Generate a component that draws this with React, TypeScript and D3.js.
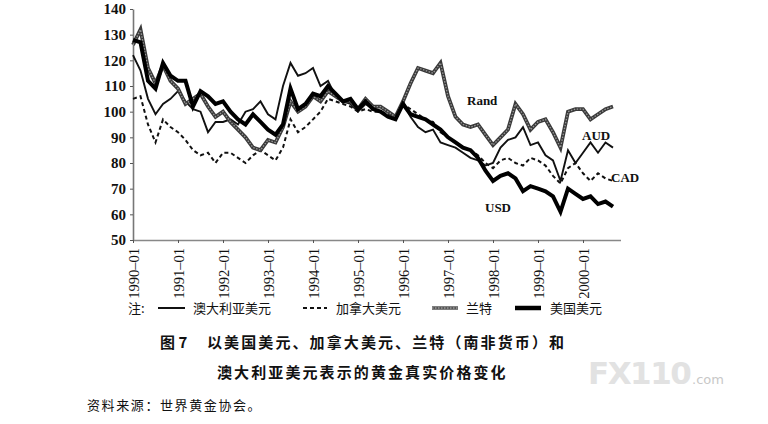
import React, { useRef, useEffect } from "react"
import * as d3 from "d3"

// bi-monthly readings, first point = 1990-01
const startYear = 1990
const stepMonths = 2

const usd = [
  128, 127, 112, 109, 119, 114, 112, 112, 102, 108, 106, 103, 104, 100, 97, 95, 99, 96, 93, 91, 95, 109, 101, 103, 107, 106, 110, 107, 104, 105,
  101, 104, 101, 100, 98, 97, 103, 99, 98, 97, 95, 93, 90, 88, 86, 85, 82, 77, 73, 75, 76, 74, 69, 71, 70, 69, 67, 61, 70, 68, 66, 67, 64, 65, 63,
]
const rand = [
  126, 132, 117, 111, 118, 112, 109, 103, 105, 107, 102, 98, 100, 96, 93, 90, 86, 85, 89, 88, 94, 104, 100, 102, 106, 104, 108, 106, 104, 104,
  101, 105, 102, 102, 100, 98, 104, 111, 117, 116, 115, 119, 106, 98, 95, 94, 95, 91, 87, 90, 93, 103, 99, 93, 96, 97, 92, 86, 100, 101, 101, 97, 99, 101, 102,
]
const aud = [
  122, 116, 105, 99, 103, 105, 108, 104, 101, 100, 92, 96, 96, 97, 95, 100, 101, 104, 99, 97, 110, 119, 114, 115, 117, 110, 112, 106, 104, 103,
  100, 103, 101, 100, 98, 97, 104, 98, 94, 92, 93, 88, 87, 86, 84, 82, 81, 79, 80, 86, 89, 90, 94, 87, 88, 83, 81, 73, 85, 80, 84, 88, 84, 88, 86,
]
const cad = [
  105, 106, 95, 88, 97, 94, 92, 89, 85, 83, 84, 80, 84, 84, 82, 80, 83, 85, 83, 81, 86, 97, 92, 94, 97, 100, 105, 104, 103, 102,
  100, 101, 100, 100, 99, 98, 103, 101, 99, 97, 96, 92, 90, 88, 86, 85, 83, 80, 78, 81, 82, 80, 79, 82, 81, 79, 75, 72, 78, 80, 76, 73, 76, 74, 73,
]

const yTicks = [50, 60, 70, 80, 90, 100, 110, 120, 130, 140]
const yearTicks = ["1990-01", "1991-01", "1992-01", "1993-01", "1994-01", "1995-01", "1996-01", "1997-01", "1998-01", "1999-01", "2000-01"]

const legendNames = ["澳大利亚美元", "加拿大美元", "兰特", "美国美元"]
const seriesLabels = ["AUD", "CAD", "Rand", "USD"]
const titleLine1 = "以美国美元、加拿大美元、兰特（南非货币）和"
const titleLine2 = "澳大利亚美元表示的黄金真实价格变化"
const sourceText = "资料来源：世界黄金协会。"

const W = 768
const H = 424
const serif = "'Liberation Serif', 'Times New Roman', serif"
const cjk = "'Noto Sans CJK SC', sans-serif"

const App: React.FC = () => {
  const svgRef = useRef<SVGSVGElement | null>(null)

  useEffect(() => {
    if (!svgRef.current) return
    const svg = d3.select(svgRef.current)
    svg.selectAll("*").remove()

    svg.append("rect").attr("width", W).attr("height", H).attr("fill", "#fff")

    const x = d3.scaleLinear().domain([0, 130]).range([133, 620.5])
    const y = d3.scaleLinear().domain([50, 140]).range([240, 9])

    // axes
    const yAxis = svg
      .append("g")
      .attr("transform", `translate(${x(0)},0)`)
      .call(d3.axisLeft(y).tickValues(yTicks).tickSize(3).tickSizeOuter(0).tickPadding(4))
    yAxis.selectAll("text").style("font-family", serif).style("font-size", "15px").style("font-weight", "bold").attr("fill", "#111")
    yAxis.select(".domain").attr("stroke", "#777").attr("stroke-width", 1.6)
    yAxis.selectAll(".tick line").attr("stroke", "#555")

    const xAxis = svg
      .append("g")
      .attr("transform", `translate(0,${y(50)})`)
      .call(
        d3
          .axisBottom(x)
          .tickValues(yearTicks.map((_, i) => i * 12))
          .tickFormat((_, i) => yearTicks[i].replace("-", "–"))
          .tickSize(3)
          .tickSizeOuter(0)
      )
    xAxis.select(".domain").attr("stroke", "#888").attr("stroke-width", 1.6)
    xAxis.selectAll(".tick line").attr("stroke", "#555")
    xAxis
      .selectAll("text")
      .attr("transform", "rotate(-90)")
      .attr("x", -8)
      .attr("y", 0)
      .attr("dy", "0.35em")
      .style("text-anchor", "end")
      .style("font-family", serif)
      .style("font-size", "14.5px")
      .attr("fill", "#111")

    const line = d3
      .line<number>()
      .x((_, i) => x(i * stepMonths))
      .y((d) => y(d))

    const g = svg.append("g").attr("fill", "none").attr("stroke-linejoin", "miter")

    // CAD dashed
    g.append("path").datum(cad).attr("d", line).attr("stroke", "#111").attr("stroke-width", 2).attr("stroke-dasharray", "4,3")
    // AUD thin
    g.append("path").datum(aud).attr("d", line).attr("stroke", "#111").attr("stroke-width", 1.9)
    // Rand grey textured
    g.append("path").datum(rand).attr("d", line).attr("stroke", "#3a3a3a").attr("stroke-width", 3.8)
    g.append("path").datum(rand).attr("d", line).attr("stroke", "#999").attr("stroke-width", 1.3).attr("stroke-dasharray", "1.5,1.5")
    // USD thick
    g.append("path").datum(usd).attr("d", line).attr("stroke", "#000").attr("stroke-width", 4)

    // series labels
    const lab = svg.append("g").style("font-family", serif).style("font-size", "13px").style("font-weight", "bold").attr("fill", "#111")
    const labelPos: [number, number][] = [
      [582, 140],
      [611, 182],
      [467, 105],
      [485, 212],
    ]
    seriesLabels.forEach((s, i) => {
      lab.append("text").attr("x", labelPos[i][0]).attr("y", labelPos[i][1]).text(s)
    })

    // legend
    const leg = svg.append("g").style("font-family", cjk).style("font-size", "13px").attr("fill", "#111")
    const ly = 308
    leg.append("text").attr("x", 128).attr("y", ly + 5).text("注:")
    const swatchX = [158, 303, 432, 515]
    const textX = [193, 336, 466, 550]
    leg.append("line").attr("x1", swatchX[0]).attr("x2", swatchX[0] + 27).attr("y1", ly).attr("y2", ly).attr("stroke", "#111").attr("stroke-width", 2)
    leg.append("line").attr("x1", swatchX[1]).attr("x2", swatchX[1] + 24).attr("y1", ly).attr("y2", ly).attr("stroke", "#111").attr("stroke-width", 2).attr("stroke-dasharray", "4,3")
    leg.append("line").attr("x1", swatchX[2]).attr("x2", swatchX[2] + 26).attr("y1", ly).attr("y2", ly).attr("stroke", "#555").attr("stroke-width", 3.5)
    leg.append("line").attr("x1", swatchX[2]).attr("x2", swatchX[2] + 26).attr("y1", ly).attr("y2", ly).attr("stroke", "#bbb").attr("stroke-width", 1.2).attr("stroke-dasharray", "1.5,1.5")
    leg.append("line").attr("x1", swatchX[3]).attr("x2", swatchX[3] + 26).attr("y1", ly).attr("y2", ly).attr("stroke", "#000").attr("stroke-width", 4.5)
    legendNames.forEach((n, i) => {
      leg.append("text").attr("x", textX[i]).attr("y", ly + 5).text(n)
    })

    // caption
    const cap = svg.append("g").style("font-family", cjk).style("font-weight", "bold").style("font-size", "15px").attr("fill", "#111")
    cap.append("text").attr("x", 160).attr("y", 348).text("图 7")
    cap.append("text").attr("x", 207).attr("y", 348).style("letter-spacing", "2.1px").text(titleLine1)
    cap.append("text").attr("x", 217).attr("y", 378).style("letter-spacing", "2.1px").text(titleLine2)

    svg
      .append("text")
      .attr("x", 87)
      .attr("y", 410)
      .style("font-family", cjk)
      .style("font-size", "13px")
      .style("letter-spacing", "1.6px")
      .attr("fill", "#111")
      .text(sourceText)

    // watermark
    svg
      .append("text")
      .attr("x", 588)
      .attr("y", 384)
      .style("font-family", "'DejaVu Sans', sans-serif")
      .style("font-weight", "bold")
      .style("font-size", "31px")
      .style("letter-spacing", "-1.5px")
      .attr("fill", "#e2e2e2")
      .text("FX110")
    svg
      .append("text")
      .attr("x", 692)
      .attr("y", 384)
      .style("font-family", "'DejaVu Sans', sans-serif")
      .style("font-size", "13px")
      .attr("fill", "#c8c8c8")
      .text(".com")
  }, [])

  return <svg ref={svgRef} width={W} height={H} style={{ position: "absolute", left: 0, top: 0 }} />
}

export default App
